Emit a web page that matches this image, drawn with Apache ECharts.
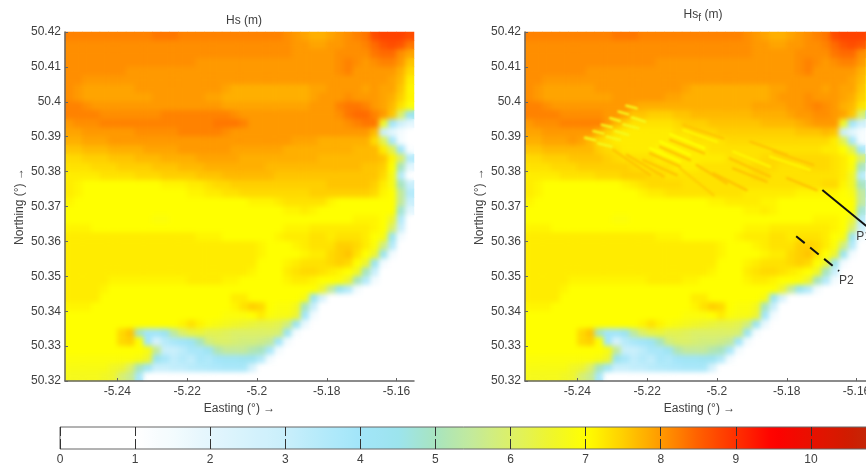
<!DOCTYPE html>
<html><head><meta charset="utf-8">
<style>html,body{margin:0;padding:0;background:#fff}#c{width:866px;height:469px}</style>
<script src="https://cdn.jsdelivr.net/npm/echarts@6/dist/echarts.min.js"></script>
</head><body><div id="c"></div>
<script>
// Wave height, in tenths of a metre. Rows run north to south, columns west to east.
const hs = [
[82,82,82,82,82,82,82,82,82,82,83,83,83,82,82,82,82,82,82,82,82,82,82,82,82,81,80,79,78,78,79,80,81,82,83,87,88,88,88,87],
[81,81,81,81,81,81,81,81,81,81,81,81,81,81,81,81,81,81,81,81,81,81,81,81,81,81,80,80,79,79,80,80,81,81,82,84,86,87,86,83],
[81,81,81,81,81,81,81,81,81,81,81,81,81,81,81,81,81,81,81,81,81,81,81,81,81,81,80,80,80,80,80,81,81,81,81,83,84,84,81,79],
[81,81,81,81,81,81,81,81,81,81,81,81,81,81,81,80,80,80,80,80,80,80,80,80,80,80,80,80,80,80,80,81,82,81,80,81,82,82,80,76],
[81,81,81,81,81,81,81,80,80,80,80,80,80,80,80,80,80,80,80,80,80,80,80,80,80,80,80,80,80,80,80,81,82,80,80,80,80,80,78,74],
[81,81,80,80,80,80,80,80,80,80,80,80,80,80,80,80,80,80,80,80,80,80,80,80,80,80,80,80,80,80,80,80,80,80,80,80,80,79,77,72],
[81,80,79,79,79,79,79,79,80,80,80,80,80,80,80,80,80,80,79,78,78,78,78,78,78,78,78,78,79,79,80,80,80,80,79,80,79,79,76,71],
[81,80,79,79,79,79,79,79,79,79,80,80,80,80,80,80,79,79,78,78,78,78,78,78,78,78,78,78,79,80,80,80,81,80,80,80,79,78,75,71],
[82,82,81,80,80,80,80,80,80,80,80,80,80,80,80,80,80,80,79,79,79,79,79,79,79,79,79,79,80,80,80,82,83,83,82,80,79,77,73,69],
[82,82,82,82,81,81,81,81,81,81,81,82,82,82,82,82,82,82,82,81,80,80,80,80,80,80,80,80,80,80,80,81,83,84,84,82,80,76,60,45],
[80,81,81,81,82,82,82,82,82,82,82,82,82,82,82,82,82,83,83,83,82,80,80,80,80,80,80,80,80,80,80,80,81,82,83,83,66,40,28,20],
[79,79,80,80,80,80,80,80,81,81,81,81,81,82,82,82,82,82,81,80,80,80,80,80,80,80,80,80,80,80,80,80,80,80,80,77,30,20,14,0],
[78,78,79,79,79,80,80,80,80,80,80,80,80,80,80,80,80,80,80,80,80,80,80,80,80,80,79,79,79,78,78,78,78,78,78,74,62,38,14,0],
[76,76,77,77,77,78,78,78,78,79,79,79,79,80,80,80,80,80,80,79,79,79,79,79,79,78,78,78,78,78,78,78,78,77,77,77,72,62,40,12],
[74,74,75,75,75,76,76,76,77,77,77,78,78,78,78,79,79,79,79,79,78,78,78,78,78,78,78,78,78,77,77,77,77,77,77,77,76,71,60,35],
[73,73,73,74,74,74,75,75,75,75,76,76,76,77,77,77,78,78,78,78,78,78,78,77,77,77,77,77,77,77,77,77,77,77,76,76,75,70,50,20],
[72,72,72,72,73,73,73,73,74,74,74,75,75,75,75,76,76,76,77,77,77,77,77,77,76,76,76,76,76,76,76,76,76,76,76,76,74,68,35,0],
[72,71,70,70,70,70,70,70,70,70,70,71,71,71,72,72,73,74,74,75,75,75,75,75,75,75,75,75,75,75,76,76,76,76,76,75,72,68,50,30],
[72,71,70,70,70,70,70,70,70,70,70,70,70,70,71,71,72,72,73,73,74,74,74,74,74,74,74,74,75,75,75,75,75,75,75,74,71,70,55,35],
[71,70,70,70,70,70,70,70,70,70,70,70,70,70,70,70,70,70,70,70,70,71,71,71,72,73,73,73,73,73,71,70,70,70,70,70,70,70,55,30],
[70,70,70,70,70,70,70,70,70,70,70,70,70,70,70,70,70,70,70,70,70,70,70,70,70,71,71,72,71,70,70,70,70,70,70,70,70,70,48,20],
[70,70,70,70,70,70,70,70,70,70,69,69,70,70,70,70,70,70,70,70,70,70,70,70,70,70,70,70,70,70,70,70,70,71,71,71,70,65,35,0],
[71,71,71,70,70,70,70,70,70,70,70,70,70,70,70,70,70,70,70,70,70,70,70,70,70,71,71,71,72,72,72,72,72,72,72,71,70,60,30,0],
[72,72,72,72,72,72,72,72,72,72,72,72,72,72,72,71,71,71,70,70,70,70,70,70,71,72,72,72,73,73,72,73,73,73,72,70,68,45,15,0],
[72,72,72,72,72,72,72,72,72,72,72,72,72,72,72,72,72,72,72,72,72,72,71,70,70,70,71,72,73,73,73,75,75,74,72,69,58,35,0,0],
[72,72,72,72,72,72,72,72,72,72,72,72,72,72,72,72,72,72,72,72,72,72,71,70,70,70,70,71,72,72,74,75,76,73,70,65,45,15,0,0],
[72,72,72,72,72,72,72,72,72,72,72,72,72,72,72,72,72,72,72,72,72,72,70,70,70,71,72,73,73,73,74,75,74,70,65,45,15,0,0,0],
[72,72,72,72,72,72,72,72,72,72,72,72,72,72,72,72,72,72,72,72,72,71,70,70,70,72,73,74,74,73,72,71,70,66,50,30,0,0,0,0],
[72,72,72,72,72,71,71,71,71,71,71,71,71,71,72,72,72,72,71,71,70,70,70,70,70,71,72,72,71,70,70,69,65,50,35,15,0,0,0,0],
[72,72,72,72,71,70,70,70,70,70,70,70,70,70,70,70,70,70,70,70,70,70,70,70,70,70,70,70,70,65,55,45,35,15,0,0,0,0,0,0],
[72,72,72,72,70,70,70,70,70,70,70,70,70,70,70,70,70,70,70,72,72,70,70,70,70,70,70,68,45,25,0,0,0,0,0,0,0,0,0,0],
[71,71,71,70,70,70,70,70,70,70,70,70,70,70,70,70,70,70,70,71,73,75,74,70,69,69,67,50,30,0,0,0,0,0,0,0,0,0,0,0],
[70,70,70,70,70,70,70,70,70,70,70,70,70,70,70,70,70,70,69,69,69,70,72,69,68,68,65,40,15,0,0,0,0,0,0,0,0,0,0,0],
[70,70,70,70,70,70,70,70,70,70,70,70,70,71,73,71,69,68,67,66,65,64,63,63,62,58,44,18,0,0,0,0,0,0,0,0,0,0,0,0],
[70,70,70,70,70,70,74,76,50,40,40,44,54,60,63,64,62,62,61,60,60,60,60,60,59,44,14,0,0,0,0,0,0,0,0,0,0,0,0,0],
[70,70,70,70,70,70,74,75,70,40,25,34,38,40,43,50,58,60,60,59,58,58,57,55,40,15,0,0,0,0,0,0,0,0,0,0,0,0,0,0],
[70,70,70,70,70,70,70,70,70,68,55,30,30,33,38,38,43,52,55,55,55,52,50,38,15,0,0,0,0,0,0,0,0,0,0,0,0,0,0,0],
[69,69,69,69,69,69,69,69,68,65,45,38,32,35,32,38,36,40,42,42,43,43,35,15,0,0,0,0,0,0,0,0,0,0,0,0,0,0,0,0],
[68,68,68,68,68,66,65,60,50,42,30,30,32,32,34,35,36,37,38,38,38,25,10,0,0,0,0,0,0,0,0,0,0,0,0,0,0,0,0,0],
[67,67,67,67,66,65,59,56,38,0,0,0,0,0,0,0,0,0,0,0,0,0,0,0,0,0,0,0,0,0,0,0,0,0,0,0,0,0,0,0]
];
// Second panel: only the rows crossed by the wake differ by a readable amount.
const hsfWakeRows = [
[82,82,81,80,80,80,80,80,80,80,80,80,79,78,78,78,78,78,78,78,78,78,78,78,78,78,79,79,79,79,80,80,81,82,81,80,78,77,73,69],
[82,82,82,82,81,81,81,81,81,80,80,79,76,76,75,75,75,76,76,77,77,77,77,77,77,77,78,78,78,78,79,80,80,81,81,80,79,76,60,45],
[80,81,81,81,82,82,82,82,82,80,77,75,73,73,73,73,73,74,75,75,75,76,76,76,76,76,76,77,77,77,77,78,79,80,80,80,66,40,28,20],
[79,79,80,80,80,80,80,80,78,75,73,72,72,72,72,72,72,73,73,74,74,74,75,75,75,75,75,75,75,75,75,76,76,76,77,76,30,20,14,0],
[78,78,79,79,79,80,79,77,74,73,72,72,72,72,72,72,72,72,72,73,73,73,73,74,74,74,74,74,74,74,74,74,74,74,74,72,62,38,14,0],
[76,76,77,77,77,77,77,77,75,74,73,72,72,72,72,71,72,72,72,72,72,73,73,73,73,73,73,73,73,73,73,73,73,73,72,72,70,62,40,12],
[74,74,75,75,75,76,76,76,76,75,74,73,73,73,73,72,72,72,72,72,72,72,72,73,73,73,73,74,74,74,74,74,74,74,74,73,72,70,60,35],
[73,73,73,74,74,74,75,75,75,75,75,75,74,73,73,73,73,72,72,72,73,73,73,73,73,73,74,74,74,73,73,73,74,74,74,73,72,69,50,20],
[72,72,72,72,73,73,73,73,74,74,74,75,75,75,74,74,73,73,73,73,73,73,73,73,73,73,74,74,73,73,73,73,73,73,73,73,72,66,35,0],
[72,71,70,70,70,70,70,70,70,70,70,71,72,73,74,74,74,74,73,73,73,73,73,73,73,73,73,73,73,73,73,73,73,73,74,74,71,66,50,30],
[72,71,70,70,70,70,70,70,70,70,70,70,70,71,72,72,73,73,73,73,73,73,73,73,73,72,72,72,72,72,72,71,71,71,71,71,70,68,55,35],
[71,70,70,70,70,70,70,70,70,70,70,70,70,70,70,70,70,70,70,70,70,71,71,72,72,72,72,71,71,70,70,70,70,70,70,70,70,70,55,30]
];
const hsf = [...hs.slice(0, 8), ...hsfWakeRows, ...hs.slice(20)];

// Wake stripes behind the device array: [lon0, lat0, lon1, lat1, Hs in m]
const wakeStripes = [
[-5.2378,50.3897,-5.2349,50.3890,6.7],[-5.2354,50.3916,-5.2325,50.3909,6.7],[-5.2330,50.3934,-5.2301,50.3927,6.7],
[-5.2306,50.3953,-5.2278,50.3945,6.7],[-5.2282,50.3972,-5.2254,50.3964,6.7],[-5.2260,50.3989,-5.2230,50.3981,6.7],
[-5.2340,50.3881,-5.2302,50.3872,6.7],[-5.2316,50.3900,-5.2278,50.3891,6.7],[-5.2292,50.3916,-5.2254,50.3905,6.7],
[-5.2268,50.3935,-5.2225,50.3924,6.7],[-5.2244,50.3955,-5.2206,50.3943,6.7],
[-5.2192,50.3852,-5.2106,50.3814,7.6],[-5.2163,50.3871,-5.2077,50.3833,7.6],[-5.2134,50.3891,-5.2037,50.3852,7.6],
[-5.2096,50.3934,-5.1981,50.3895,7.6],[-5.2211,50.3833,-5.2115,50.3790,7.6],[-5.2258,50.3848,-5.2153,50.3786,7.6],
[-5.2297,50.3862,-5.2192,50.3790,7.6],[-5.2105,50.3809,-5.2010,50.3733,7.5],[-5.2058,50.3819,-5.1972,50.3766,7.6],
[-5.2010,50.3795,-5.1915,50.3747,7.6],[-5.1963,50.3838,-5.1848,50.3786,7.6],[-5.1954,50.3809,-5.1858,50.3771,7.6],
[-5.1904,50.3886,-5.1799,50.3848,7.6],[-5.1838,50.3857,-5.1724,50.3819,7.6],[-5.1799,50.3781,-5.1714,50.3747,7.6],
[-5.2192,50.3867,-5.2106,50.3829,7.0],[-5.2163,50.3886,-5.2077,50.3848,7.0],[-5.2134,50.3907,-5.2037,50.3867,7.0],
[-5.2096,50.3919,-5.2000,50.3885,7.1],[-5.1953,50.3857,-5.1848,50.3814,7.1],[-5.1848,50.3843,-5.1734,50.3805,7.1]
];
const p1Line = [[-5.1698,50.3747],[-5.1572,50.3644]];
const p2Line = [[-5.1773,50.3615],[-5.1650,50.3515]];
const lonTicks = [-5.24,-5.22,-5.2,-5.18,-5.16];
const latTicks = [50.32,50.33,50.34,50.35,50.36,50.37,50.38,50.39,50.4,50.41,50.42];
// Colour table, evenly spaced every 0.5 m from 0 to 11 m
const palette = ['#ffffff','#ffffff','#ffffff','#f3fbfe','#e3f6fd','#d6f2fc','#c9effb','#b4eafa','#a2e5f9','#9ce4ee','#a8e4bf','#c4ea9a','#dcf068','#eef530','#ffff00','#ffcf00','#ff9900','#ff6000','#ff3000','#ff0000','#e81000','#d01c00','#b83010'];

[hs, hsf].forEach((t,k)=>{ if(t.length!==40) throw new Error('rows '+k+' '+t.length); t.forEach((r,j)=>{ if(r.length!==40) throw new Error('panel '+k+' row '+j+' len '+r.length); }); });

const ink = '#404040', line = '#666666', font = 'Liberation Sans';
const cells = t => { const o=[]; t.forEach((r,j)=>r.forEach((v,i)=>o.push([i,j,v/10]))); return o; };
const idx = Array.from({length:40},(_,i)=>String(i));
const G = [{left:65,top:32,width:349,height:349,outerBoundsMode:'none'},{left:525,top:32,width:349,height:349,outerBoundsMode:'none'},{left:60,top:427,width:826,height:22,show:true,borderColor:line,borderWidth:1,z:5,zlevel:4,outerBoundsMode:'none'}];
const valX = (g) => ({type:'value',gridIndex:g,position:'bottom',min:-5.255,max:-5.155,zlevel:3,
  name:'Easting (°) →',nameLocation:'middle',nameGap:21,nameTextStyle:{color:ink,fontSize:12,fontFamily:font},
  axisLine:{lineStyle:{color:line,width:1.5}},axisTick:{inside:true,length:3,lineStyle:{color:line},customValues:lonTicks},
  axisLabel:{color:ink,fontSize:12,fontFamily:font,margin:5,customValues:lonTicks,formatter:v=>String(v),hideOverlap:false},splitLine:{show:false}});
const valY = (g) => ({type:'value',gridIndex:g,position:'left',min:50.32,max:50.42,zlevel:3,
  name:'Northing (°) →',nameLocation:'middle',nameGap:39,nameTextStyle:{color:ink,fontSize:12,fontFamily:font},
  axisLine:{show:true,lineStyle:{color:line,width:1.5}},axisTick:{show:true,inside:true,length:3,lineStyle:{color:line},customValues:latTicks},
  axisLabel:{color:ink,fontSize:12,fontFamily:font,margin:4,customValues:latTicks,formatter:v=>String(v),hideOverlap:false},splitLine:{show:false}});
const catX = g => ({type:'category',gridIndex:g,position:'top',data:idx,show:false});
const catY = g => ({type:'category',gridIndex:g,position:'right',data:idx,inverse:true,show:false});
const heat = (data,x,y,z) => ({type:'heatmap',xAxisIndex:x,yAxisIndex:y,data,zlevel:z,progressive:0,animation:false,silent:true,emphasis:{disabled:true}});
const option = {
  animation:false,backgroundColor:'#fff',
  grid:G,
  title:[
    {text:'Hs (m)',left:239,top:10,textAlign:'center',zlevel:3,textStyle:{color:ink,fontSize:12,fontWeight:'normal',fontFamily:font}},
    {text:'Hs{s|f} (m)',left:698,top:2,textAlign:'center',zlevel:3,textStyle:{color:ink,fontSize:12,fontWeight:'normal',fontFamily:font,rich:{s:{fontSize:10,color:ink,fontFamily:font,verticalAlign:'bottom',padding:[6,0,0,0]}}}}
  ],
  xAxis:[valX(0),catX(0),valX(1),catX(1),
    {type:'value',gridIndex:2,min:0,max:11,interval:1,zlevel:4,z:6,axisLine:{show:false},axisTick:{show:false},
     axisLabel:{color:ink,fontSize:12,fontFamily:font,margin:5},
     splitLine:{show:true,lineStyle:{color:'#333',width:1,type:[9,3,10]}}}],
  yAxis:[valY(0),catY(0),valY(1),catY(1),{type:'value',gridIndex:2,min:0,max:1,show:false}],
  visualMap:[
    {type:'continuous',min:0,max:11,dimension:2,seriesIndex:[0,1,2,3],show:true,orient:'horizontal',left:60,top:427,padding:0,itemWidth:22,itemHeight:826,
     calculable:false,hoverLink:false,text:null,showLabel:false,zlevel:3,inRange:{color:palette},textStyle:{fontSize:0}},
    {type:'continuous',min:0,max:11,dimension:4,seriesIndex:[4],show:false,inRange:{color:palette}}
  ],
  series:[
    heat(cells(hs),1,1,0),heat(cells(hsf),3,3,0),
    heat(cells(hs),1,1,1),heat(cells(hsf),3,3,1),
    {type:'custom',xAxisIndex:2,yAxisIndex:2,zlevel:2,silent:true,clip:true,data:wakeStripes,encode:{x:[0,2],y:[1,3]},
     renderItem:(p,api)=>{const a=api.coord([api.value(0),api.value(1)]),b=api.coord([api.value(2),api.value(3)]);
       return {type:'line',shape:{x1:a[0],y1:a[1],x2:b[0],y2:b[1]},style:{stroke:api.visual('color'),lineWidth:2.4,lineCap:'round',fill:null}};}},
    {type:'line',xAxisIndex:2,yAxisIndex:2,zlevel:3,z:10,silent:true,data:p1Line,showSymbol:false,lineStyle:{color:'#111',width:2},
     endLabel:{show:true,formatter:'P1',color:ink,fontSize:12,fontFamily:font,offset:[-18,11]}},
    {type:'line',xAxisIndex:2,yAxisIndex:2,zlevel:3,z:10,silent:true,data:p2Line,showSymbol:false,lineStyle:{color:'#111',width:2,type:[11,7]},
     endLabel:{show:true,formatter:'P2',color:ink,fontSize:12,fontFamily:font,offset:[-8,10]}}
  ]
};
const chart = echarts.init(document.getElementById('c'),null,{renderer:'canvas',width:866,height:469});
chart.setOption(option);
const clip = "path('M65 32H414V381H65Z M525 32H866V381H525Z')";
const lay = z => document.querySelector('canvas[data-zr-dom-id="zr_'+z+'"]');
const soft = (z,b) => { const c=lay(z); if(c){ c.style.filter='blur('+b+'px)'; c.style.clipPath=clip; } };
soft(1,2.5); soft(2,1.2);
</script></body></html>
